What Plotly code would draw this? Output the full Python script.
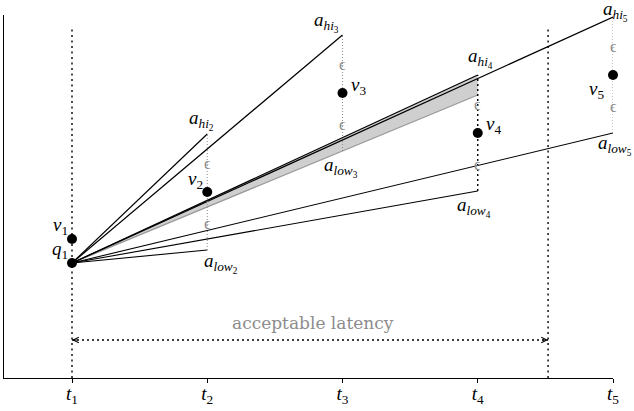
import plotly.graph_objects as go

# ---------------- data ----------------
t = [1, 2, 3, 4, 5]
tick_labels = ["<i>t</i><sub>1</sub>", "<i>t</i><sub>2</sub>", "<i>t</i><sub>3</sub>",
               "<i>t</i><sub>4</sub>", "<i>t</i><sub>5</sub>"]
q1 = 115                       # value of q1 at t1
v = [139, 186, 285, 245, 303]  # v1 .. v5
eps = 58
latency_limit = 4.52           # end of acceptable latency window
latency_y = 38                 # height of the latency arrow
guide_top = 350                # top of the dotted guide lines

a_hi = {i: v[i - 1] + eps for i in range(2, 6)}
a_low = {i: v[i - 1] - eps for i in range(2, 6)}

FONT = "Liberation Serif"
BLACK = "black"
GRAY = "#8c8c8c"

fig = go.Figure()

# gray region between q1->a_hi4 and q1->a_low3 (extended to t4)
low3_ext = q1 + (a_low[3] - q1) * (t[3] - t[0]) / (t[2] - t[0])
fig.add_trace(go.Scatter(x=[t[0], t[3], t[3], t[0]], y=[q1, a_hi[4], low3_ext, q1],
                         fill="toself", fillcolor="#cfcfcf", mode="lines",
                         line=dict(width=0), hoverinfo="skip"))
# gray lower edge
fig.add_trace(go.Scatter(x=[t[0], t[3]], y=[q1, low3_ext], mode="lines",
                         line=dict(color="#999999", width=1.3)))

# black lines from q1
for i in range(2, 6):
    fig.add_trace(go.Scatter(x=[t[0], t[i - 1]], y=[q1, a_hi[i]], mode="lines",
                             line=dict(color=BLACK, width=1.2)))
for i in (2, 4, 5):
    fig.add_trace(go.Scatter(x=[t[0], t[i - 1]], y=[q1, a_low[i]], mode="lines",
                             line=dict(color=BLACK, width=1.1)))

# dotted guides at t1 and latency limit
for xg in (t[0], latency_limit):
    fig.add_trace(go.Scatter(x=[xg, xg], y=[0, guide_top], mode="lines",
                             line=dict(color=BLACK, width=1.4, dash="2px,3.5px")))

# epsilon intervals
for i in range(2, 6):
    col, w, d = (BLACK, 1.4, "2px,3px") if i == 4 else (GRAY, 1.0, "1px,2px")
    fig.add_trace(go.Scatter(x=[t[i - 1], t[i - 1]], y=[a_low[i], a_hi[i]], mode="lines",
                             line=dict(color=col, width=w, dash=d)))

# latency arrow (dotted body)
fig.add_trace(go.Scatter(x=[t[0], latency_limit], y=[latency_y, latency_y], mode="lines",
                         line=dict(color=BLACK, width=1.3, dash="2px,3px")))

# points
fig.add_trace(go.Scatter(x=[t[0]] + t, y=[q1] + v, mode="markers",
                         marker=dict(color=BLACK, size=10), cliponaxis=False))

# ---------------- labels ----------------
ann = []
def lab(x, y, text, dx, dy, size=19, color=BLACK, family=FONT):
    ann.append(dict(x=x, y=y, text=text, showarrow=False, xshift=dx, yshift=dy,
                    font=dict(family=family, size=size, color=color),
                    xanchor="center", yanchor="middle"))

lab(t[0], q1, "<i>q</i><sub>1</sub>", -12, 13)
v_off = {1: (-12, 13), 2: (-12, 12), 3: (16, 7), 4: (16, 8), 5: (-17, -15)}
for i in range(1, 6):
    lab(t[i - 1], v[i - 1], "<i>v</i><sub>%d</sub>" % i, *v_off[i])
hi_off = {2: (-6, 14), 3: (-16, 13), 4: (3, 17), 5: (2, 6)}
low_off = {2: (14, -13), 3: (-2, -16), 4: (-4, -16), 5: (2, -12)}
for i in range(2, 6):
    lab(t[i - 1], a_hi[i], "<i>a</i><sub><i>hi</i><sub>%d</sub></sub>" % i, *hi_off[i])
    lab(t[i - 1], a_low[i], "<i>a</i><sub><i>low</i><sub>%d</sub></sub>" % i, *low_off[i])
    lab(t[i - 1], v[i - 1] + eps / 2, "ϵ", 0, 0, size=16, color=GRAY)
    lab(t[i - 1], v[i - 1] - eps / 2, "ϵ", 0, -2, size=16, color=GRAY)

lab((t[0] + latency_limit) / 2, latency_y, "acceptable latency", 3, 17, size=17,
    color=GRAY, family="DejaVu Serif")

# arrow heads of the latency arrow
for xe, off in ((t[0], 7), (latency_limit, -7)):
    ann.append(dict(x=xe, y=latency_y, ax=off, ay=0, showarrow=True, text="",
                    arrowhead=5, arrowsize=1, arrowwidth=1.1, arrowcolor=BLACK))

fig.update_layout(
    width=634, height=411,
    margin=dict(l=4, r=21, t=15, b=33),
    paper_bgcolor="white", plot_bgcolor="white",
    showlegend=False,
    annotations=ann,
    xaxis=dict(range=[0.4972, 5], showline=True, linecolor=BLACK, linewidth=1.3,
               ticks="outside", ticklen=4, tickcolor=BLACK, tickwidth=1,
               tickvals=t, ticktext=tick_labels, showgrid=False, zeroline=False,
               tickfont=dict(family=FONT, size=19, color=BLACK), fixedrange=True,
               automargin=False, ticklabelstandoff=-6),
    yaxis=dict(range=[0, 363], showline=True, linecolor=BLACK, linewidth=1.3,
               showticklabels=False, ticks="", showgrid=False, zeroline=False,
               fixedrange=True, automargin=False),
)

fig.write_html("out.html", config={"displayModeBar": False},
               post_script="document.body.style.margin='0';")
